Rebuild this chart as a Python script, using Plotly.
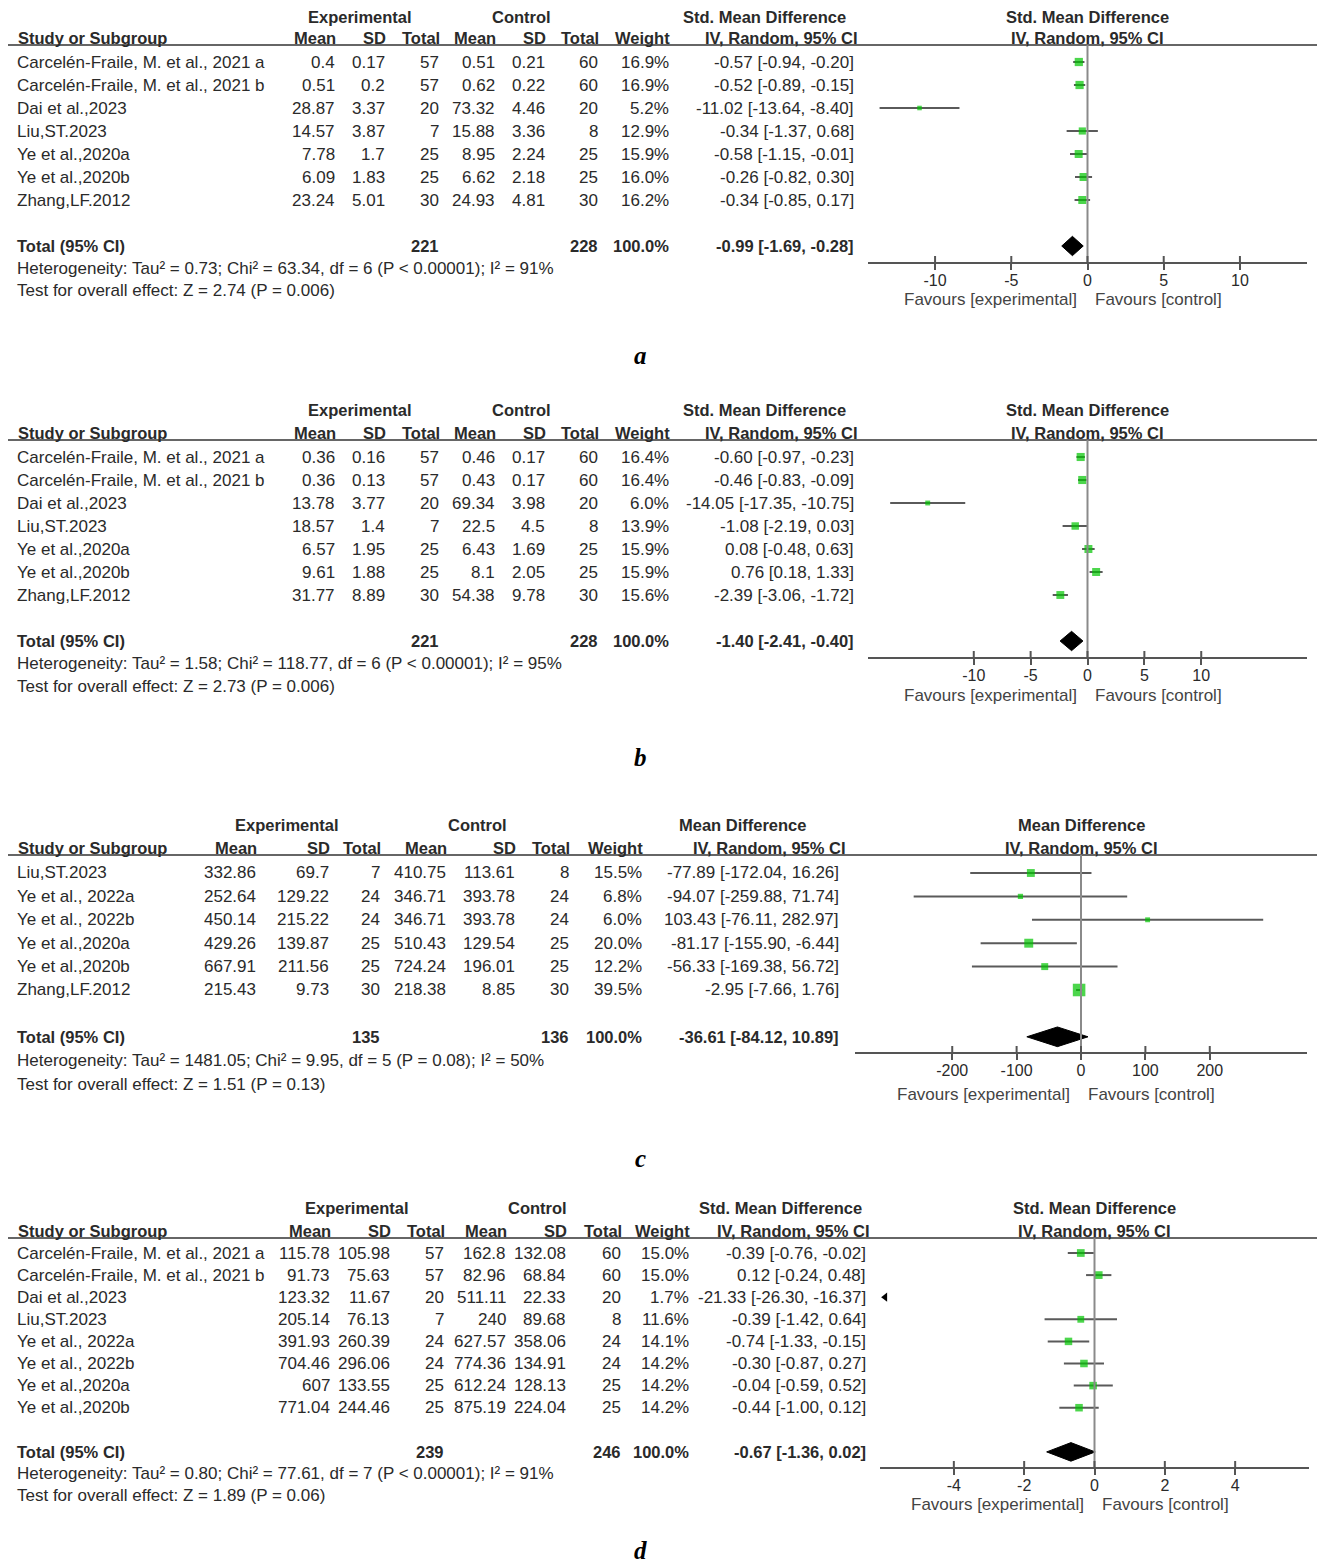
import plotly.graph_objects as go

PAGE_W, PAGE_H = 1325, 1566
OFF = 8                      # default page margin around the plot div
FW, FH = PAGE_W - OFF, PAGE_H - OFF

# ---------------- Panel a ----------------
A_study = ["Carcelén-Fraile, M. et al., 2021 a", "Carcelén-Fraile, M. et al., 2021 b", "Dai et al.,2023",
           "Liu,ST.2023", "Ye et al.,2020a", "Ye et al.,2020b", "Zhang,LF.2012"]
A_mean_e = [0.4, 0.51, 28.87, 14.57, 7.78, 6.09, 23.24]
A_sd_e = [0.17, 0.2, 3.37, 3.87, 1.7, 1.83, 5.01]
A_n_e = [57, 57, 20, 7, 25, 25, 30]
A_mean_c = [0.51, 0.62, 73.32, 15.88, 8.95, 6.62, 24.93]
A_sd_c = [0.21, 0.22, 4.46, 3.36, 2.24, 2.18, 4.81]
A_n_c = [60, 60, 20, 8, 25, 25, 30]
A_weight = [16.9, 16.9, 5.2, 12.9, 15.9, 16.0, 16.2]
A_est = [-0.57, -0.52, -11.02, -0.34, -0.58, -0.26, -0.34]
A_lo = [-0.94, -0.89, -13.64, -1.37, -1.15, -0.82, -0.85]
A_hi = [-0.20, -0.15, -8.40, 0.68, -0.01, 0.30, 0.17]
A_tot_n = [221, 228]
A_pooled = [-0.99, -1.69, -0.28]
A_het = "Heterogeneity: Tau² = 0.73; Chi² = 63.34, df = 6 (P < 0.00001); I² = 91%"
A_test = "Test for overall effect: Z = 2.74 (P = 0.006)"
A_ticks = [-10, -5, 0, 5, 10]

# ---------------- Panel b ----------------
B_study = A_study
B_mean_e = [0.36, 0.36, 13.78, 18.57, 6.57, 9.61, 31.77]
B_sd_e = [0.16, 0.13, 3.77, 1.4, 1.95, 1.88, 8.89]
B_n_e = [57, 57, 20, 7, 25, 25, 30]
B_mean_c = [0.46, 0.43, 69.34, 22.5, 6.43, 8.1, 54.38]
B_sd_c = [0.17, 0.17, 3.98, 4.5, 1.69, 2.05, 9.78]
B_n_c = [60, 60, 20, 8, 25, 25, 30]
B_weight = [16.4, 16.4, 6.0, 13.9, 15.9, 15.9, 15.6]
B_est = [-0.60, -0.46, -14.05, -1.08, 0.08, 0.76, -2.39]
B_lo = [-0.97, -0.83, -17.35, -2.19, -0.48, 0.18, -3.06]
B_hi = [-0.23, -0.09, -10.75, 0.03, 0.63, 1.33, -1.72]
B_tot_n = [221, 228]
B_pooled = [-1.40, -2.41, -0.40]
B_het = "Heterogeneity: Tau² = 1.58; Chi² = 118.77, df = 6 (P < 0.00001); I² = 95%"
B_test = "Test for overall effect: Z = 2.73 (P = 0.006)"
B_ticks = [-10, -5, 0, 5, 10]

# ---------------- Panel c ----------------
C_study = ["Liu,ST.2023", "Ye et al., 2022a", "Ye et al., 2022b", "Ye et al.,2020a", "Ye et al.,2020b", "Zhang,LF.2012"]
C_mean_e = [332.86, 252.64, 450.14, 429.26, 667.91, 215.43]
C_sd_e = [69.7, 129.22, 215.22, 139.87, 211.56, 9.73]
C_n_e = [7, 24, 24, 25, 25, 30]
C_mean_c = [410.75, 346.71, 346.71, 510.43, 724.24, 218.38]
C_sd_c = [113.61, 393.78, 393.78, 129.54, 196.01, 8.85]
C_n_c = [8, 24, 24, 25, 25, 30]
C_weight = [15.5, 6.8, 6.0, 20.0, 12.2, 39.5]
C_est = [-77.89, -94.07, 103.43, -81.17, -56.33, -2.95]
C_lo = [-172.04, -259.88, -76.11, -155.90, -169.38, -7.66]
C_hi = [16.26, 71.74, 282.97, -6.44, 56.72, 1.76]
C_tot_n = [135, 136]
C_pooled = [-36.61, -84.12, 10.89]
C_het = "Heterogeneity: Tau² = 1481.05; Chi² = 9.95, df = 5 (P = 0.08); I² = 50%"
C_test = "Test for overall effect: Z = 1.51 (P = 0.13)"
C_ticks = [-200, -100, 0, 100, 200]

# ---------------- Panel d ----------------
D_study = ["Carcelén-Fraile, M. et al., 2021 a", "Carcelén-Fraile, M. et al., 2021 b", "Dai et al.,2023",
           "Liu,ST.2023", "Ye et al., 2022a", "Ye et al., 2022b", "Ye et al.,2020a", "Ye et al.,2020b"]
D_mean_e = [115.78, 91.73, 123.32, 205.14, 391.93, 704.46, 607, 771.04]
D_sd_e = [105.98, 75.63, 11.67, 76.13, 260.39, 296.06, 133.55, 244.46]
D_n_e = [57, 57, 20, 7, 24, 24, 25, 25]
D_mean_c = [162.8, 82.96, 511.11, 240, 627.57, 774.36, 612.24, 875.19]
D_sd_c = [132.08, 68.84, 22.33, 89.68, 358.06, 134.91, 128.13, 224.04]
D_n_c = [60, 60, 20, 8, 24, 24, 25, 25]
D_weight = [15.0, 15.0, 1.7, 11.6, 14.1, 14.2, 14.2, 14.2]
D_est = [-0.39, 0.12, -21.33, -0.39, -0.74, -0.30, -0.04, -0.44]
D_lo = [-0.76, -0.24, -26.30, -1.42, -1.33, -0.87, -0.59, -1.00]
D_hi = [-0.02, 0.48, -16.37, 0.64, -0.15, 0.27, 0.52, 0.12]
D_tot_n = [239, 246]
D_pooled = [-0.67, -1.36, 0.02]
D_het = "Heterogeneity: Tau² = 0.80; Chi² = 77.61, df = 7 (P < 0.00001); I² = 91%"
D_test = "Test for overall effect: Z = 1.89 (P = 0.06)"
D_ticks = [-4, -2, 0, 2, 4]

PANEL_LETTERS = ["a", "b", "c", "d"]

# ---------------- layout geometry (page pixels) ----------------
GEOM = [
    dict(h1=17, h2=38, line=45, row0=62, step=23.0, axis=262, het=268, test=291, fav=300, letter=355,
         dom=(868, 1307), rng=14.4, cols=(337, 387, 441, 497, 547, 600, 671, 856),
         exp_c=360, ctl_c=521, eff_c=764, ivr=860, eff="Std. Mean Difference"),
    dict(h1=410, h2=433, line=440, row0=457, step=23.0, axis=657, het=663, test=686, fav=695, letter=757,
         dom=(868, 1307), rng=19.3, cols=(337, 387, 441, 497, 547, 600, 671, 856),
         exp_c=360, ctl_c=521, eff_c=764, ivr=860, eff="Std. Mean Difference"),
    dict(h1=825, h2=848, line=855, row0=873, step=23.4, axis=1052, het=1060, test=1084, fav=1094, letter=1158,
         dom=(855, 1307), rng=351, cols=(258, 331, 382, 448, 517, 571, 644, 841),
         exp_c=287, ctl_c=477, eff_c=742, ivr=848, eff="Mean Difference"),
    dict(h1=1208, h2=1231, line=1238, row0=1253, step=22.1, axis=1467, het=1473, test=1495, fav=1504, letter=1550,
         dom=(880, 1309), rng=6.1, cols=(332, 392, 446, 508, 568, 623, 691, 868),
         exp_c=357, ctl_c=537, eff_c=780, ivr=872, eff="Std. Mean Difference"),
]

DATA = [
    (A_study, A_mean_e, A_sd_e, A_n_e, A_mean_c, A_sd_c, A_n_c, A_weight, A_est, A_lo, A_hi, A_tot_n, A_pooled, A_het, A_test, A_ticks),
    (B_study, B_mean_e, B_sd_e, B_n_e, B_mean_c, B_sd_c, B_n_c, B_weight, B_est, B_lo, B_hi, B_tot_n, B_pooled, B_het, B_test, B_ticks),
    (C_study, C_mean_e, C_sd_e, C_n_e, C_mean_c, C_sd_c, C_n_c, C_weight, C_est, C_lo, C_hi, C_tot_n, C_pooled, C_het, C_test, C_ticks),
    (D_study, D_mean_e, D_sd_e, D_n_e, D_mean_c, D_sd_c, D_n_c, D_weight, D_est, D_lo, D_hi, D_tot_n, D_pooled, D_het, D_test, D_ticks),
]

FONT = "Liberation Sans, Arial, sans-serif"
FS = 17
FS_HEAD = 16.5
TXT = "#2a2a2a"
GREEN = "#00c400"
CI_COL = "#5a5a5a"

fig = go.Figure()
ann = []
shapes = []
layout_axes = {}


def py(p):
    return 1 - (p - OFF) / FH


def px(p):
    return (p - OFF) / FW


def add_text(x, y, text, yref="paper", anchor="right", bold=False, size=FS, color=TXT, xref="paper", xshift=0):
    ann.append(dict(x=x, y=y, xref=xref, yref=yref, text=("<b>%s</b>" % text) if bold else text,
                    xanchor=anchor, yanchor="middle", showarrow=False, xshift=xshift,
                    font=dict(family=FONT, size=size, color=color)))


def fmt(v):
    return "{:g}".format(v)


for k, (g, d) in enumerate(zip(GEOM, DATA)):
    (study, me, se, ne, mc, sc, nc, wt, est, lo, hi, totn, pooled, het, test, ticks) = d
    n = len(study)
    tot_idx = n + 1
    sfx = "" if k == 0 else str(k + 1)
    xa, ya = "x" + sfx, "y" + sfx
    y_bot = (g["axis"] - g["row0"]) / g["step"]
    y_top = (g["line"] - g["row0"]) / g["step"]
    xmin, xmax = -g["rng"], g["rng"]
    layout_axes["xaxis" + sfx] = dict(
        domain=[px(g["dom"][0]), px(g["dom"][1])], range=[xmin, xmax], anchor=ya,
        showline=True, linecolor="#555", linewidth=2, ticks="outside", ticklen=6, tickwidth=2,
        tickcolor="#555", tickvals=ticks, ticktext=[fmt(t) for t in ticks], showgrid=False,
        zeroline=False, tickfont=dict(family=FONT, size=16, color=TXT), ticklabelstandoff=-3,
        fixedrange=True)
    layout_axes["yaxis" + sfx] = dict(
        domain=[py(g["axis"]), py(g["line"])], range=[y_bot, y_top], anchor=xa,
        visible=False, showgrid=False, zeroline=False, fixedrange=True)

    # header rule and null line
    shapes.append(dict(type="line", xref="paper", yref="paper", x0=px(5), x1=1.0,
                       y0=py(g["line"]), y1=py(g["line"]), line=dict(color="#666", width=2)))
    shapes.append(dict(type="line", xref=xa, yref=ya + " domain", x0=0, x1=0, y0=0, y1=1,
                       line=dict(color="#8a8a8a", width=2)))
    # upper halves of tick marks (ticks cross the axis line)
    for t in ticks:
        shapes.append(dict(type="line", xref=xa, yref=ya + " domain", ysizemode="pixel", yanchor=0,
                           x0=t, x1=t, y0=0, y1=6, line=dict(color="#555", width=2)))

    # CI lines
    for i in range(n):
        fig.add_trace(go.Scatter(x=[lo[i], hi[i]], y=[i, i], mode="lines", xaxis=xa, yaxis=ya,
                                 line=dict(color=CI_COL, width=2), hoverinfo="skip", showlegend=False))
    in_x, in_y, in_s = [], [], []
    out_x, out_y = [], []
    for i in range(n):
        if est[i] < xmin:
            out_x.append(xmin + 0.012 * (xmax - xmin))
            out_y.append(i)
        else:
            in_x.append(est[i])
            in_y.append(i)
            in_s.append(2.0 * wt[i] ** 0.5)
    fig.add_trace(go.Scatter(x=in_x, y=in_y, mode="markers", xaxis=xa, yaxis=ya,
                             marker=dict(symbol="square", size=in_s, color=GREEN, line=dict(width=0)),
                             hoverinfo="skip", showlegend=False))
    if out_x:
        fig.add_trace(go.Scatter(x=out_x, y=out_y, mode="markers", xaxis=xa, yaxis=ya, cliponaxis=False,
                                 marker=dict(symbol="triangle-left", size=8, color="black"),
                                 hoverinfo="skip", showlegend=False))
    pe, pl, ph = pooled
    hh = 0.42
    fig.add_trace(go.Scatter(x=[pl, pe, ph, pe, pl], y=[tot_idx, tot_idx - hh, tot_idx, tot_idx + hh, tot_idx],
                             mode="lines", fill="toself", fillcolor="black", line=dict(color="black", width=1),
                             xaxis=xa, yaxis=ya, hoverinfo="skip", showlegend=False))

    # ---- table text ----
    c = g["cols"]
    add_text(px(g["exp_c"]), py(g["h1"]), "Experimental", anchor="center", bold=True, size=FS_HEAD)
    add_text(px(g["ctl_c"]), py(g["h1"]), "Control", anchor="center", bold=True, size=FS_HEAD)
    add_text(px(g["eff_c"]), py(g["h1"]), g["eff"], anchor="center", bold=True, size=FS_HEAD)
    add_text(0.5, py(g["h1"]), g["eff"], anchor="center", bold=True, xref=xa + " domain", size=FS_HEAD)
    add_text(px(16), py(g["h2"]), "Study or Subgroup", anchor="left", bold=True, size=FS_HEAD)
    for col, lab in zip(c[:7], ["Mean", "SD", "Total", "Mean", "SD", "Total", "Weight"]):
        add_text(px(col + 1), py(g["h2"]), lab, bold=True, size=FS_HEAD)
    add_text(px(g["ivr"]), py(g["h2"]), "IV, Random, 95% CI", bold=True, size=FS_HEAD)
    add_text(0.5, py(g["h2"]), "IV, Random, 95% CI", anchor="center", bold=True, xref=xa + " domain",
             size=FS_HEAD)

    for i in range(n):
        add_text(px(15), i, study[i], yref=ya, anchor="left")
        vals = [fmt(me[i]), fmt(se[i]), str(ne[i]), fmt(mc[i]), fmt(sc[i]), str(nc[i]),
                "{:.1f}%".format(wt[i]), "{:.2f} [{:.2f}, {:.2f}]".format(est[i], lo[i], hi[i])]
        for col, v in zip(c, vals):
            add_text(px(col), i, v, yref=ya)
    add_text(px(15), tot_idx, "Total (95% CI)", yref=ya, anchor="left", bold=True, size=FS_HEAD)
    add_text(px(c[2]), tot_idx, str(totn[0]), yref=ya, bold=True, size=FS_HEAD)
    add_text(px(c[5]), tot_idx, str(totn[1]), yref=ya, bold=True, size=FS_HEAD)
    add_text(px(c[6]), tot_idx, "100.0%", yref=ya, bold=True, size=FS_HEAD)
    add_text(px(c[7]), tot_idx, "{:.2f} [{:.2f}, {:.2f}]".format(pe, pl, ph), yref=ya, bold=True, size=FS_HEAD)
    add_text(px(15), py(g["het"]), het, anchor="left")
    add_text(px(15), py(g["test"]), test, anchor="left")

    add_text(0, py(g["fav"]), "Favours [experimental]", xref=xa, anchor="right", xshift=-9, size=17, color="#444")
    add_text(0, py(g["fav"]), "Favours [control]", xref=xa, anchor="left", xshift=5, size=17, color="#444")

    ann.append(dict(x=px(640), y=py(g["letter"]), xref="paper", yref="paper", xanchor="center", yanchor="middle",
                    showarrow=False, text="<b><i>%s</i></b>" % PANEL_LETTERS[k],
                    font=dict(family="Liberation Serif, Times New Roman, serif", size=25, color="black")))

fig.update_layout(width=FW, height=FH, margin=dict(l=0, r=0, t=0, b=0), paper_bgcolor="white",
                  plot_bgcolor="white", showlegend=False, annotations=ann, shapes=shapes, **layout_axes)
fig.write_html("out.html")
